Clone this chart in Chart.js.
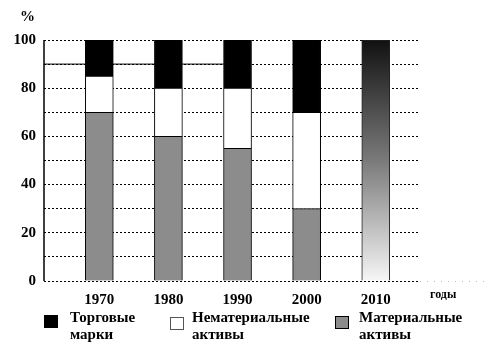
<!DOCTYPE html>
<html>
<head>
<meta charset="utf-8">
<script src="https://cdn.jsdelivr.net/npm/chart.js@4.4.1/dist/chart.umd.min.js"></script>
<style>
  body { margin: 0; background: #fff; }
  #wrap { position: relative; width: 492px; height: 354px; }
  #legend { position: absolute; left: 0; top: 0; width: 492px; height: 354px; pointer-events: none;
            font-family: "Liberation Serif", serif; font-weight: bold; font-size: 15px; line-height: 17px; }
  .box { position: absolute; width: 12px; height: 11px; border: 1px solid #000; }
  .txt { position: absolute; white-space: nowrap; }
</style>
</head>
<body>
<div id="wrap">
  <canvas id="chart" width="492" height="354"></canvas>
  <div id="legend"></div>
</div>
<script>
var years = [1970, 1980, 1990, 2000, 2010];
var tangible = [70, 60, 55, 30, 0];      // Материальные активы
var intangible = [15, 20, 25, 40, 0];    // Нематериальные активы
var brands = [15, 20, 20, 30, 0];        // Торговые марки
var forecast = [0, 0, 0, 0, 100];        // 2010
var yTicks = [0, 20, 40, 60, 80, 100];
var refLine = [{x: 1962, y: 90}, {x: 1988, y: 90}];

var legendNames = [['Торговые', 'марки'], ['Нематериальные', 'активы'], ['Материальные', 'активы']];

function pts(vals) {
  return years.map(function(yr, i) { return {x: yr, y: vals[i]}; });
}

var serif = '"Liberation Serif", "Times New Roman", serif';

var textPlugin = {
  id: 'extraText',
  afterDatasetsDraw: function(chart) {
    var c = chart.ctx, a = chart.chartArea;
    c.save();
    // y axis line
    c.strokeStyle = '#000';
    c.lineWidth = 1.5;
    c.beginPath();
    c.moveTo(a.left, a.top);
    c.lineTo(a.left, a.bottom);
    c.stroke();
    // faint dotted continuation of the baseline
    c.strokeStyle = '#bbb';
    c.lineWidth = 1;
    c.setLineDash([1, 6]);
    c.beginPath();
    c.moveTo(a.right, a.bottom + 0.5);
    c.lineTo(490, a.bottom + 0.5);
    c.stroke();
    c.setLineDash([]);
    c.fillStyle = '#000';
    c.font = 'bold 15px ' + serif;
    c.textBaseline = 'alphabetic';
    c.fillText('%', 20, 21);
    c.font = 'bold 12px ' + serif;
    c.fillText('годы', 430, 298);
    c.restore();
  }
};

function gradFill(ctx) {
  var area = ctx.chart.chartArea;
  if (!area) return '#888';
  var g = ctx.chart.ctx.createLinearGradient(0, area.top, 0, area.bottom);
  g.addColorStop(0, '#111');
  g.addColorStop(0.5, '#7a7a7a');
  g.addColorStop(1, '#f6f6f6');
  return g;
}

var chart = new Chart(document.getElementById('chart').getContext('2d'), {
  type: 'bar',
  data: {
    datasets: [
      { label: 'Материальные активы', data: pts(tangible), backgroundColor: '#8c8c8c',
        borderColor: '#000', borderWidth: 1, barThickness: 28, order: 1 },
      { label: 'Нематериальные активы', data: pts(intangible), backgroundColor: '#fff',
        borderColor: '#000', borderWidth: 1, barThickness: 28, order: 1 },
      { label: 'Торговые марки', data: pts(brands), backgroundColor: '#000',
        borderColor: '#000', borderWidth: 1, barThickness: 28, order: 1 },
      { label: '2010', data: pts(forecast), backgroundColor: gradFill,
        borderColor: '#222', borderWidth: 1, barThickness: 28, order: 1 },
      { type: 'line', label: 'line', data: refLine, stack: 'line', borderColor: '#000',
        borderWidth: 1, pointRadius: 0, order: 2 }
    ]
  },
  options: {
    responsive: false,
    animation: false,
    layout: { padding: { top: 40, right: 72, bottom: 43, left: 0 } },
    plugins: { legend: { display: false }, tooltip: { enabled: false } },
    scales: {
      x: {
        type: 'linear', stacked: true, min: 1962, max: 2016.4, offset: false,
        grid: { display: false, offset: false },
        border: { display: false },
        afterBuildTicks: function(s) { s.ticks = years.map(function(v) { return {value: v}; }); },
        afterFit: function(s) { s.height = 30; },
        ticks: { color: '#000', padding: 2, maxRotation: 0, autoSkip: false,
                 font: { family: serif, weight: 'bold', size: 15 },
                 callback: function(v) { return String(v); } }
      },
      y: {
        stacked: true, min: 0, max: 100,
        afterFit: function(s) { s.width = 44; },
        grid: { color: '#000', lineWidth: 1, drawTicks: false },
        border: { display: false, dash: [2, 2] },
        ticks: { stepSize: 10, color: '#000', padding: 8,
                 font: { family: serif, weight: 'bold', size: 15 },
                 callback: function(v) { return yTicks.indexOf(v) >= 0 ? String(v) : ''; } }
      }
    }
  },
  plugins: [textPlugin]
});

// HTML legend built from the datasets
(function() {
  var lg = document.getElementById('legend');
  var order = [2, 1, 0];
  var boxLeft = [44, 170, 335];
  var boxTop = [315, 317, 316];
  var textLeft = [70, 192, 359];
  order.forEach(function(di, k) {
    var ds = chart.data.datasets[di];
    var b = document.createElement('div');
    b.className = 'box';
    b.style.left = boxLeft[k] + 'px';
    b.style.top = boxTop[k] + 'px';
    b.style.background = ds.backgroundColor;
    if (di === 1) b.style.borderColor = '#555';
    lg.appendChild(b);
    var t = document.createElement('div');
    t.className = 'txt';
    t.style.left = textLeft[k] + 'px';
    t.style.top = '309px';
    t.innerHTML = legendNames[k].join('<br>');
    lg.appendChild(t);
  });
})();
</script>
</body>
</html>
